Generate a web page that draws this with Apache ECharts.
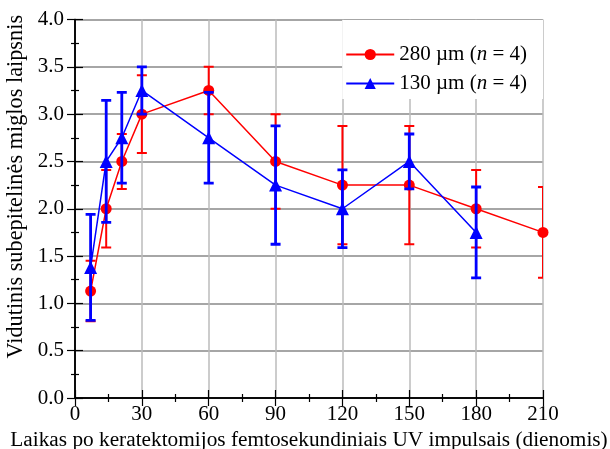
<!DOCTYPE html>
<html>
<head>
<meta charset="utf-8">
<script src="https://cdn.jsdelivr.net/npm/echarts@6/dist/echarts.min.js"></script>
<style>
  html, body { margin: 0; padding: 0; background: #fff; }
  #chart { width: 610px; height: 449px; }
</style>
</head>
<body>
<div id="chart"></div>
<script>
// Days after keratectomy
const days280 = [7, 14, 21, 30, 60, 90, 120, 150, 180, 210];
const days130 = [7, 14, 21, 30, 60, 90, 120, 150, 180];

// Mean subepithelial haze grade and error (±)
const haze280 = [1.13, 2.0, 2.5, 3.0, 3.25, 2.5, 2.25, 2.25, 2.0, 1.75];
const err280  = [0.32, 0.41, 0.29, 0.41, 0.25, 0.5, 0.625, 0.625, 0.41, 0.48];
const haze130 = [1.38, 2.5, 2.75, 3.25, 2.75, 2.25, 2.0, 2.5, 1.75];
const err130  = [0.56, 0.645, 0.48, 0.25, 0.48, 0.625, 0.41, 0.29, 0.48];

const xTicks = [0, 30, 60, 90, 120, 150, 180, 210];
const yTicks = [0, 0.5, 1.0, 1.5, 2.0, 2.5, 3.0, 3.5, 4.0];

const FONT = '"Liberation Serif", "DejaVu Serif", serif';
const RED = '#ff0000';
const BLUE = '#0000ff';

function pairs(xs, ys) { return xs.map((x, i) => [x, ys[i]]); }
function errRows(xs, ys, es) { return xs.map((x, i) => [x, ys[i] - es[i], ys[i] + es[i]]); }

function errorBar(color, width) {
  return function (params, api) {
    const lo = api.coord([api.value(0), api.value(1)]);
    const hi = api.coord([api.value(0), api.value(2)]);
    const cap = 5;
    const style = { stroke: color, lineWidth: width };
    return {
      type: 'group',
      children: [
        { type: 'line', shape: { x1: lo[0], y1: lo[1], x2: hi[0], y2: hi[1] }, style },
        { type: 'line', shape: { x1: lo[0] - cap, y1: lo[1], x2: lo[0] + cap, y2: lo[1] }, style },
        { type: 'line', shape: { x1: hi[0] - cap, y1: hi[1], x2: hi[0] + cap, y2: hi[1] }, style }
      ]
    };
  };
}

const chart = echarts.init(document.getElementById('chart'), null, { renderer: 'canvas' });

const baseX = {
  type: 'value', min: 0, max: 210, interval: 30,
  axisLine: { lineStyle: { color: '#000', width: 1.5 } },
  axisTick: { inside: true, length: 8, lineStyle: { color: '#000', width: 1.2 } },
  minorTick: { show: true, splitNumber: 2, length: 4, lineStyle: { color: '#000', width: 1.2 } }
};
const baseY = {
  type: 'value', min: 0, max: 4, interval: 0.5,
  axisLine: { lineStyle: { color: '#000', width: 1.5 } },
  axisTick: { inside: true, length: 8, lineStyle: { color: '#000', width: 1.2 } },
  minorTick: { show: true, splitNumber: 2, length: 4, lineStyle: { color: '#000', width: 1.2 } }
};

chart.setOption({
  animation: false,
  backgroundColor: '#fff',
  grid: { left: 75, right: 67, top: 19.5, bottom: 51, containLabel: false, outerBoundsMode: 'none' },
  legend: {
    right: 67, top: 20,
    orient: 'vertical',
    backgroundColor: '#fff',
    padding: [24, 16, 5, 3],
    itemWidth: 48, itemHeight: 14, itemGap: 8, itemTextGap: 6,
    textStyle: {
      fontFamily: FONT, fontSize: 21, color: '#000',
      rich: {
        a: { fontFamily: FONT, fontSize: 21, color: '#000' },
        i: { fontFamily: FONT, fontSize: 21, color: '#000', fontStyle: 'italic' }
      }
    },
    formatter: function (name) {
      const m = name.match(/^(.*\()n(.*)$/);
      return m ? '{a|' + m[1] + '}{i|n}{a|' + m[2] + '}' : name;
    },
    data: ['280 µm (n = 4)', '130 µm (n = 4)']
  },
  xAxis: [
    Object.assign({}, baseX, {
      position: 'bottom',
      name: 'Laikas po keratektomijos femtosekundiniais UV impulsais (dienomis)',
      nameLocation: 'middle', nameGap: 30,
      nameTextStyle: { fontFamily: FONT, fontSize: 21.3, color: '#000' },
      axisLabel: {
        margin: 6, fontFamily: FONT, fontSize: 21, color: '#000',
        formatter: v => xTicks.includes(v) ? String(v) : ''
      },
      splitLine: { show: true, lineStyle: { color: '#bbbbbb', width: 1.5 } }
    }),
    Object.assign({}, baseX, {
      position: 'top',
      axisLabel: { show: false },
      splitLine: { show: false }
    })
  ],
  yAxis: [
    Object.assign({}, baseY, {
      position: 'left',
      name: 'Vidutinis subepitelinės miglos laipsnis',
      nameLocation: 'middle', nameGap: 41,
      nameTextStyle: { fontFamily: FONT, fontSize: 22.3, color: '#000', padding: [0, 0, 0, 44] },
      axisLabel: {
        margin: 11, fontFamily: FONT, fontSize: 21, color: '#000',
        formatter: v => yTicks.includes(v) ? v.toFixed(1) : ''
      },
      splitLine: { show: true, lineStyle: { color: '#888888', width: 1.5 } }
    }),
    Object.assign({}, baseY, {
      position: 'right',
      axisLabel: { show: false },
      splitLine: { show: false }
    })
  ],
  series: [
    {
      name: '280 µm (n = 4) err', type: 'custom', clip: true, z: 2,
      renderItem: errorBar(RED, 2),
      encode: { x: 0, y: [1, 2] },
      data: errRows(days280, haze280, err280)
    },
    {
      name: '280 µm (n = 4)', type: 'line', z: 3,
      symbol: 'circle', symbolSize: 11,
      lineStyle: { color: RED, width: 1.5 },
      itemStyle: { color: RED },
      data: pairs(days280, haze280)
    },
    {
      name: '130 µm (n = 4) err', type: 'custom', clip: true, z: 4,
      renderItem: errorBar(BLUE, 2.8),
      encode: { x: 0, y: [1, 2] },
      data: errRows(days130, haze130, err130)
    },
    {
      name: '130 µm (n = 4)', type: 'line', z: 5,
      symbol: 'triangle', symbolSize: 13,
      lineStyle: { color: BLUE, width: 1.5 },
      itemStyle: { color: BLUE },
      data: pairs(days130, haze130)
    }
  ]
});
</script>
</body>
</html>
